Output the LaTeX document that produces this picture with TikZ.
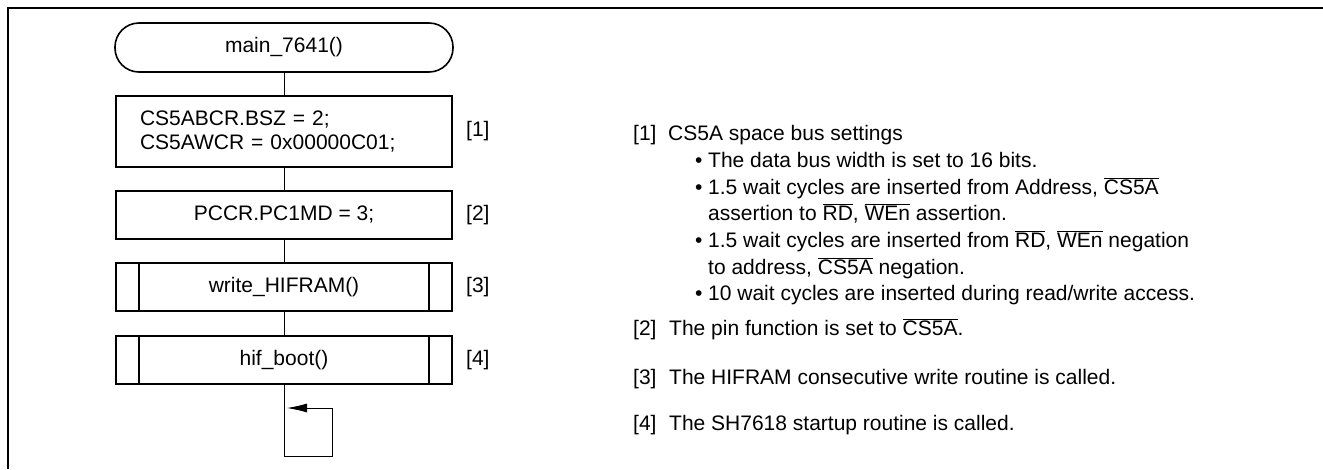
\documentclass[tikz,border=0pt]{standalone}
\usepackage{fontspec}
\setmainfont{Liberation Sans}
\usetikzlibrary{arrows.meta}
\newcommand\ovl[1]{\ensuremath{\overline{\mbox{#1}}}}
\begin{document}
\begin{tikzpicture}[x=1pt,y=-1pt,
  font=\fontsize{21}{24}\selectfont,
  box/.style={draw,line width=1.6pt,minimum width=336pt,minimum height=48pt,inner sep=0pt},
  conn/.style={line width=0.9pt},
  lbl/.style={anchor=west,inner sep=0pt},
  txt/.style={anchor=base west,inner sep=0pt}]
\useasboundingbox (0,0) rectangle (1323,469);
\draw[line width=2pt] (8,469) -- (8,8) -- (1323,8);

% flowchart
\node[box, rounded corners=24pt, minimum width=338pt, minimum height=49pt] (t) at (284,47.5) {main\_7641()};
\node[box, minimum height=71pt, text width=288pt, align=left] (b1) at (284,131.5) {CS5ABCR.BSZ = 2;\\CS5AWCR = 0x00000C01;};
\node[box] (b2) at (284,215) {PCCR.PC1MD = 3;};
\node[box] (b3) at (284,287) {write\_HIFRAM()};
\node[box] (b4) at (284,360) {hif\_boot()};
\foreach \b in {b3,b4}{
  \draw[line width=1.6pt] ([xshift=24pt]\b.north west) -- ([xshift=24pt]\b.south west);
  \draw[line width=1.6pt] ([xshift=-24pt]\b.north east) -- ([xshift=-24pt]\b.south east);
}
\draw[conn] (t) -- (b1);
\draw[conn] (b1) -- (b2);
\draw[conn] (b2) -- (b3);
\draw[conn] (b3) -- (b4);
\coordinate (lpA) at (284,456);
\coordinate (lpB) at (332,456);
\coordinate (lpC) at (332,408);
\coordinate (lpD) at (287,408);
\draw[conn,-{Latex[length=20pt,width=9pt]}] (b4.south) -- (lpA) -- (lpB) -- (lpC) -- (lpD);

\node[lbl] (l1) at (466,131.5) {[1]};
\node[lbl] (l2) at (466,215) {[2]};
\node[lbl] (l3) at (466,287) {[3]};
\node[lbl] (l4) at (466,360) {[4]};

% notes
\node[txt] (n1) at (633,140.5) {[1]};
\node[txt] (n1t) at (668,140.5) {CS5A space bus settings};
\node[txt] (bu1) at (695,167.5) {\textbullet};
\node[txt] (t1) at (708,167.5) {The data bus width is set to 16 bits.};
\node[txt] (bu2) at (695,194.5) {\textbullet};
\node[txt] (t2) at (708,194.5) {1.5 wait cycles are inserted from Address, \ovl{CS5A}};
\node[txt] (t2b) at (708,220.5) {assertion to \ovl{RD}, \ovl{WEn} assertion.};
\node[txt] (bu3) at (695,247.5) {\textbullet};
\node[txt] (t3) at (708,247.5) {1.5 wait cycles are inserted from \ovl{RD}, \ovl{WEn} negation};
\node[txt] (t3b) at (708,274.5) {to address, \ovl{CS5A} negation.};
\node[txt] (bu4) at (695,300.5) {\textbullet};
\node[txt] (t4) at (708,300.5) {10 wait cycles are inserted during read/write access.};
\node[txt] (n2) at (633,335.5) {[2]};
\node[txt] (n2t) at (669,335.5) {The pin function is set to \ovl{CS5A}.};
\node[txt] (n3) at (633,384.5) {[3]};
\node[txt] (n3t) at (669,384.5) {The HIFRAM consecutive write routine is called.};
\node[txt] (n4) at (633,430.5) {[4]};
\node[txt] (n4t) at (669,430.5) {The SH7618 startup routine is called.};
\end{tikzpicture}
\end{document}
